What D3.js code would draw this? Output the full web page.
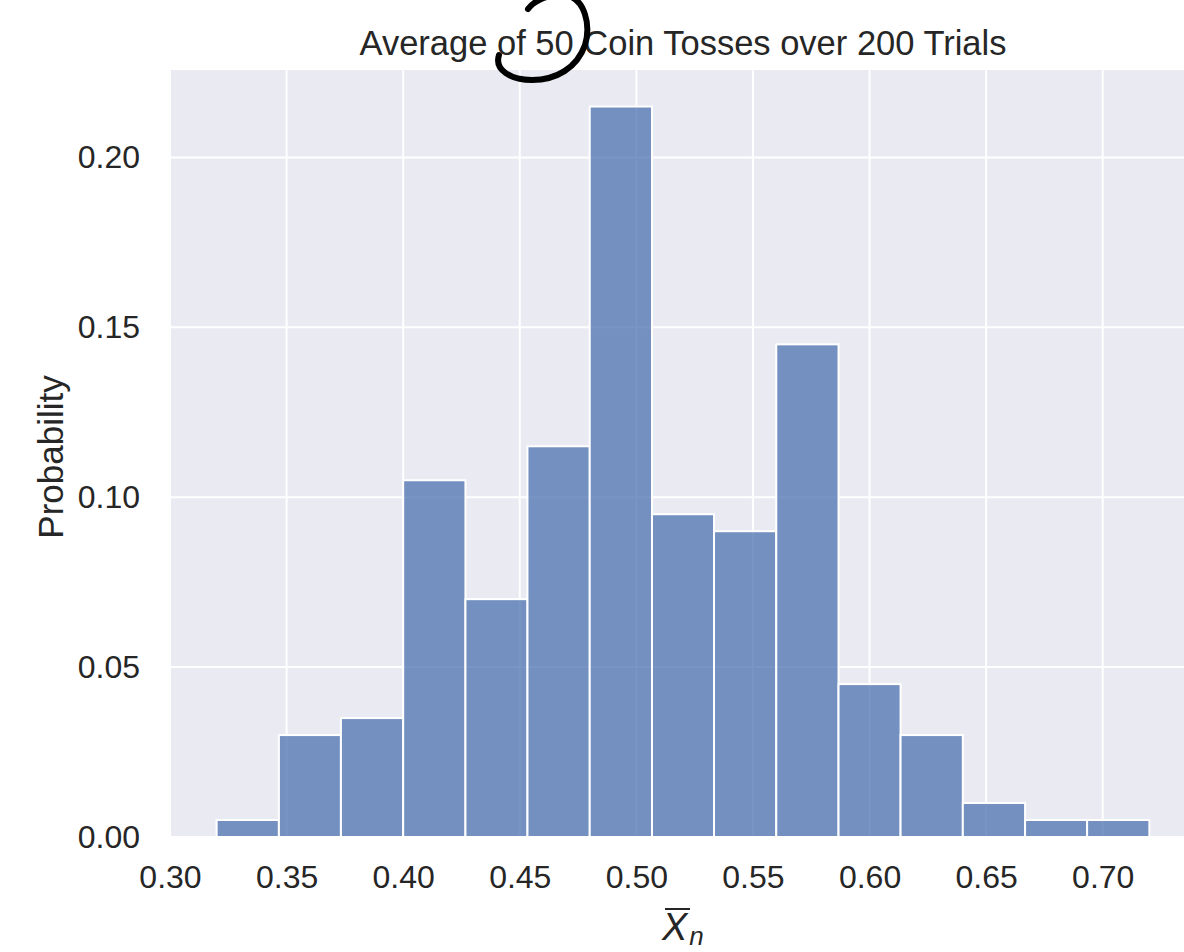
<!DOCTYPE html>
<html>
<head>
<meta charset="utf-8">
<script src="https://cdn.jsdelivr.net/npm/d3@7"></script>
<style>
  body { margin: 0; background: #fff; }
  text { font-family: "Liberation Sans", Arial, Helvetica, sans-serif; fill: #262626; }
</style>
</head>
<body>
<script>
(function() {

    // histogram data: bin edges and the probability of each bin
    var binEdges = [0.32, 0.3467, 0.3733, 0.40, 0.4267, 0.4533, 0.48, 0.5067,
                    0.5333, 0.56, 0.5867, 0.6133, 0.64, 0.6667, 0.6933, 0.72];
    var probs = [0.005, 0.030, 0.035, 0.105, 0.070, 0.115, 0.215, 0.095,
                 0.090, 0.145, 0.045, 0.030, 0.010, 0.005, 0.005];

    var xTicks = [0.30, 0.35, 0.40, 0.45, 0.50, 0.55, 0.60, 0.65, 0.70, 0.75];
    var yTicks = [0.00, 0.05, 0.10, 0.15, 0.20];

    var title = 'Average of 50 Coin Tosses over 200 Trials';

    var W = 1184, H = 952;
    var left = 170, right = 1196, top = 70, bottom = 837;

    var svg = d3.select('body').append('svg')
        .attr('width', W)
        .attr('height', H);

    var x = d3.scaleLinear().domain([0.30, 0.74]).range([left, right]);
    var y = d3.scaleLinear().domain([0, 0.22575]).range([bottom, top]);

    // axes background
    svg.append('rect')
        .attr('x', left).attr('y', top)
        .attr('width', right - left).attr('height', bottom - top)
        .attr('fill', '#EAEAF2');

    // grid lines
    var grid = svg.append('g');
    grid.selectAll('.vx').data(xTicks).enter().append('line')
        .attr('x1', function(d) { return x(d); })
        .attr('x2', function(d) { return x(d); })
        .attr('y1', top).attr('y2', bottom)
        .attr('stroke', '#fff').attr('stroke-width', 2);
    grid.selectAll('.hy').data(yTicks).enter().append('line')
        .attr('x1', left).attr('x2', right)
        .attr('y1', function(d) { return y(d); })
        .attr('y2', function(d) { return y(d); })
        .attr('stroke', '#fff').attr('stroke-width', 2);

    // bars
    svg.append('g').selectAll('rect')
        .data(probs)
        .enter().append('rect')
        .attr('x', function(d, i) { return x(binEdges[i]); })
        .attr('width', function(d, i) { return x(binEdges[i + 1]) - x(binEdges[i]); })
        .attr('y', function(d) { return y(d); })
        .attr('height', function(d) { return y(0) - y(d); })
        .attr('fill', '#4C72B0')
        .attr('fill-opacity', 0.75)
        .attr('stroke', '#fff')
        .attr('stroke-width', 2);

    // x axis
    var xAxis = svg.append('g')
        .attr('transform', 'translate(0,' + bottom + ')')
        .call(d3.axisBottom(x).tickValues(xTicks.slice(0, 9)).tickFormat(d3.format('.2f')).tickSize(0).tickPadding(28));
    xAxis.select('.domain').remove();
    xAxis.selectAll('text').style('font-size', '32px').attr('fill', '#262626');

    // y axis
    var yAxis = svg.append('g')
        .attr('transform', 'translate(' + left + ',0)')
        .call(d3.axisLeft(y).tickValues(yTicks).tickFormat(d3.format('.2f')).tickSize(0).tickPadding(30));
    yAxis.select('.domain').remove();
    yAxis.selectAll('text').style('font-size', '32px').attr('fill', '#262626');

    // title
    svg.append('text')
        .attr('x', 683).attr('y', 55)
        .attr('text-anchor', 'middle')
        .style('font-size', '34.5px')
        .text(title);

    // y label
    svg.append('text')
        .attr('transform', 'translate(63,457) rotate(-90)')
        .attr('text-anchor', 'middle')
        .style('font-size', '35px')
        .text('Probability');

    // x label: X-bar sub n
    var xl = svg.append('text')
        .attr('x', 662).attr('y', 940)
        .style('font-size', '38px')
        .style('font-style', 'italic');
    xl.append('tspan').text('X');
    xl.append('tspan').attr('dy', 5).attr('dx', 2).style('font-size', '26px').text('n');
    svg.append('line')
        .attr('x1', 665).attr('x2', 690)
        .attr('y1', 909).attr('y2', 909)
        .attr('stroke', '#262626').attr('stroke-width', 2);

    // hand-drawn scribble over the title
    svg.append('path')
        .attr('d', 'M528,9 C533,2 546,-6 565,-5 C585,-2 591,25 585,45 C577,68 556,80 532,80 C511,80 494,70 499,55')
        .attr('fill', 'none')
        .attr('stroke', '#000')
        .attr('stroke-width', 6)
        .attr('stroke-linecap', 'round');

})();
</script>
</body>
</html>
